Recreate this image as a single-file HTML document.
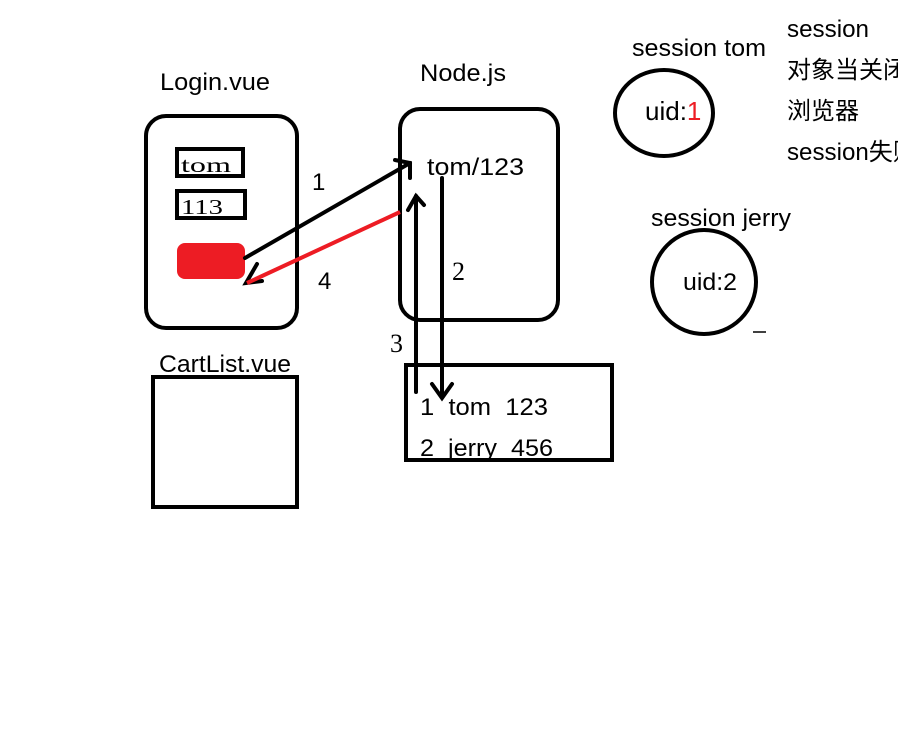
<!DOCTYPE html>
<html><head><meta charset="utf-8"><style>
html,body{margin:0;padding:0;background:#fff;}
svg{display:block;}
text{font-family:"Liberation Sans","Noto Sans CJK SC",sans-serif;font-size:24px;fill:#000;white-space:pre;}
</style></head><body>
<svg width="898" height="754" viewBox="0 0 898 754" xmlns="http://www.w3.org/2000/svg">
<rect width="898" height="754" fill="#fff"/>
<g fill="none" stroke="#000" stroke-width="4">
<rect x="146" y="116" width="151" height="212" rx="20"/>
<rect x="177" y="149" width="66" height="27"/>
<rect x="177" y="191" width="68" height="27"/>
<rect x="400" y="109" width="158" height="211" rx="20"/>
<rect x="406" y="365" width="206" height="95"/>
<rect x="153" y="377" width="144" height="130"/>
<ellipse cx="664" cy="113" rx="49" ry="43"/>
<circle cx="704" cy="282" r="52"/>
</g>
<rect x="177" y="243" width="68" height="36" rx="8" fill="#ed1c24"/>
<text x="181" y="172" style="font-size:21px;font-family:'Liberation Serif',serif" textLength="50" lengthAdjust="spacingAndGlyphs">tom</text>
<text x="181" y="214" style="font-size:21px;font-family:'Liberation Serif',serif" textLength="42" lengthAdjust="spacingAndGlyphs">113</text>
<g stroke="#000" stroke-width="4" fill="none" stroke-linecap="round">
<line x1="245" y1="258" x2="410" y2="163"/>
<polyline points="395,160 410,163 410,178"/>
<line x1="442" y1="178" x2="442" y2="396"/>
<polyline points="432,384 442,398 452,384"/>
<line x1="416" y1="392" x2="416" y2="196"/>
<polyline points="408,210 416,196 424,205"/>
<polyline points="257,264 246,283 262,281"/>
</g>
<line x1="400" y1="212" x2="247" y2="283" stroke="#ed1c24" stroke-width="4"/>
<g>
<text x="160" y="90" textLength="110" lengthAdjust="spacingAndGlyphs">Login.vue</text>
<text x="420" y="81" textLength="86" lengthAdjust="spacingAndGlyphs">Node.js</text>
<text x="159" y="372" textLength="132" lengthAdjust="spacingAndGlyphs">CartList.vue</text>
<text x="427" y="175" textLength="97" lengthAdjust="spacingAndGlyphs">tom/123</text>
<text x="312" y="190">1</text>
<text x="318" y="289">4</text>
<text x="452" y="280" style="font-family:'Liberation Serif',serif;font-size:26px">2</text>
<text x="390" y="352" style="font-family:'Liberation Serif',serif;font-size:26px">3</text>
<text x="420" y="415" textLength="128" lengthAdjust="spacingAndGlyphs">1  tom  123</text>
<text x="420" y="456" textLength="133" lengthAdjust="spacingAndGlyphs">2  jerry  456</text>
<text x="632" y="56" textLength="134" lengthAdjust="spacingAndGlyphs">session tom</text>
<text x="645" y="120" style="font-size:26px">uid:<tspan style="fill:#ed1c24">1</tspan></text>
<text x="651" y="226" textLength="140" lengthAdjust="spacingAndGlyphs">session jerry</text>
<text x="683" y="290" textLength="54" lengthAdjust="spacingAndGlyphs">uid:2</text>
<text x="787" y="37" textLength="82" lengthAdjust="spacingAndGlyphs">session</text>
<text x="787" y="78" textLength="120" lengthAdjust="spacingAndGlyphs">对象当关闭</text>
<text x="787" y="119" textLength="72" lengthAdjust="spacingAndGlyphs">浏览器</text>
<text x="787" y="160" textLength="130" lengthAdjust="spacingAndGlyphs">session失败</text>
</g>
<line x1="753" y1="332" x2="766" y2="332" stroke="#000" stroke-width="1.5"/>
</svg>
</body></html>
